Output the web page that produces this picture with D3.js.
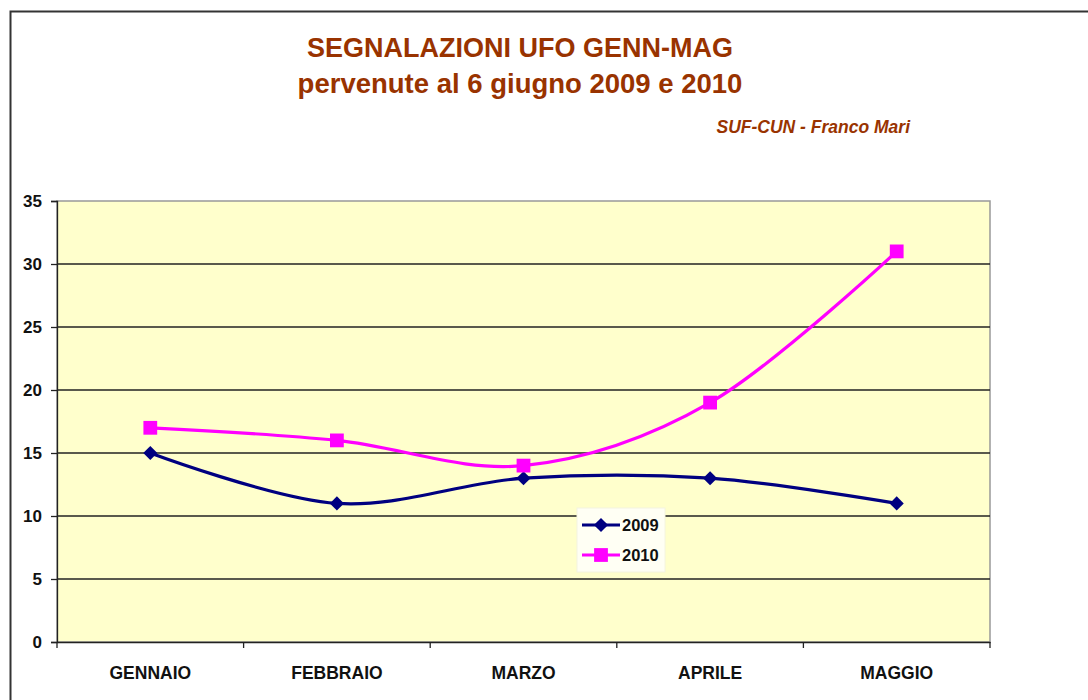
<!DOCTYPE html>
<html>
<head>
<meta charset="utf-8">
<script src="https://cdn.jsdelivr.net/npm/d3@7"></script>
<style>
  body { margin: 0; background: #fff; }
  text { font-family: "Liberation Sans", Arial, sans-serif; }
</style>
</head>
<body>
<div id="chart"></div>
<script>
// dati
let months = ["GENNAIO", "FEBBRAIO", "MARZO", "APRILE", "MAGGIO"];
let values2009 = [15, 11, 13, 13, 11];
let values2010 = [17, 16, 14, 19, 31];
let yTicks = [0, 5, 10, 15, 20, 25, 30, 35];

let svg = d3.select("div#chart").append("svg")
    .attr("width", 1088)
    .attr("height", 700);

let plot = {left: 57, right: 990, top: 201, bottom: 642};

// cornice esterna
svg.append("path")
    .attr("d", "M10.5,700 L10.5,11.5 L1088,11.5")
    .attr("fill", "none")
    .attr("stroke", "#333")
    .attr("stroke-width", 2);

let x = d3.scaleBand()
    .domain(months)
    .range([plot.left, plot.right]);
let y = d3.scaleLinear()
    .domain([0, 35])
    .range([plot.bottom, plot.top]);

// sfondo area del grafico
svg.append("rect")
    .attr("x", plot.left)
    .attr("y", plot.top)
    .attr("width", plot.right - plot.left)
    .attr("height", plot.bottom - plot.top)
    .attr("fill", "#ffffcc")
    .attr("stroke", "#999")
    .attr("stroke-width", 1.5);

// griglia
svg.selectAll("line.grid")
    .data(yTicks.filter(d => d > 0 && d < 35))
    .enter().append("line")
    .attr("class", "grid")
    .attr("x1", plot.left)
    .attr("x2", plot.right)
    .attr("y1", d => y(d))
    .attr("y2", d => y(d))
    .attr("stroke", "#222")
    .attr("stroke-width", 1.3);

// asse y
let yAxis = svg.append("g")
    .attr("transform", "translate(" + plot.left + ",0)")
    .call(d3.axisLeft(y).tickValues(yTicks).tickSize(6).tickPadding(9));
yAxis.select(".domain").attr("stroke", "#222").attr("stroke-width", 1.3);
yAxis.selectAll(".tick line").attr("stroke", "#222").attr("stroke-width", 1.3);
yAxis.selectAll("text")
    .attr("font-size", 17)
    .attr("font-weight", "bold")
    .attr("fill", "#111")
    .attr("font-family", "Liberation Sans, Arial, sans-serif");

// asse x
let xAxis = svg.append("g")
    .attr("transform", "translate(0," + plot.bottom + ")")
    .call(d3.axisBottom(x).tickSize(0).tickPadding(25));
xAxis.select(".domain").attr("stroke", "#222").attr("stroke-width", 1.5);
xAxis.selectAll("text")
    .attr("font-size", 17.5)
    .attr("font-weight", "bold")
    .attr("fill", "#111")
    .attr("font-family", "Liberation Sans, Arial, sans-serif");
// tacche tra le categorie
let bounds = months.map(m => x(m)).concat([plot.right]);
svg.selectAll("line.xtick")
    .data(bounds)
    .enter().append("line")
    .attr("class", "xtick")
    .attr("x1", d => d)
    .attr("x2", d => d)
    .attr("y1", plot.bottom)
    .attr("y2", plot.bottom + 6)
    .attr("stroke", "#222")
    .attr("stroke-width", 1.3);

let cx = m => x(m) + x.bandwidth() / 2;
let line = d3.line()
    .x((d, i) => cx(months[i]))
    .y(d => y(d))
    .curve(d3.curveCatmullRom.alpha(0));

// il rombo e' un quadrato ruotato di 45 gradi
let series = [
    {name: "2009", values: values2009, color: "#000080", shape: d3.symbolSquare, size: 100, rot: 45},
    {name: "2010", values: values2010, color: "#ff00ff", shape: d3.symbolSquare, size: 190, rot: 0}
];

series.forEach(s => {
    svg.append("path")
        .attr("d", line(s.values))
        .attr("fill", "none")
        .attr("stroke", s.color)
        .attr("stroke-width", 3.2);
    svg.selectAll(null)
        .data(s.values)
        .enter().append("path")
        .attr("d", d3.symbol().type(s.shape).size(s.size))
        .attr("transform", (d, i) => "translate(" + cx(months[i]) + "," + y(d) + ") rotate(" + s.rot + ")")
        .attr("fill", s.color);
});

// legenda
let legend = svg.append("g").attr("transform", "translate(577,508)");
legend.append("rect")
    .attr("width", 88)
    .attr("height", 64)
    .attr("fill", "#fffff4")
    .attr("stroke", "#f4f4e0");
series.forEach((s, i) => {
    let row = legend.append("g").attr("transform", "translate(0," + (17 + i * 30) + ")");
    row.append("line")
        .attr("x1", 5).attr("x2", 43)
        .attr("stroke", s.color)
        .attr("stroke-width", 3.2);
    row.append("path")
        .attr("d", d3.symbol().type(s.shape).size(s.size))
        .attr("transform", "translate(24,0) rotate(" + s.rot + ")")
        .attr("fill", s.color);
    row.append("text")
        .attr("x", 45)
        .attr("y", 6)
        .attr("font-size", 16.5)
        .attr("font-weight", "bold")
        .attr("fill", "#111")
        .text(s.name);
});

// titoli
svg.append("text")
    .attr("x", 520).attr("y", 57)
    .attr("text-anchor", "middle")
    .attr("font-size", 27)
    .attr("font-weight", "bold")
    .attr("fill", "#993300")
    .text("SEGNALAZIONI UFO GENN-MAG");
svg.append("text")
    .attr("x", 520).attr("y", 93)
    .attr("text-anchor", "middle")
    .attr("font-size", 27.5)
    .attr("font-weight", "bold")
    .attr("fill", "#993300")
    .text("pervenute al 6 giugno 2009 e 2010");
svg.append("text")
    .attr("x", 910).attr("y", 133)
    .attr("text-anchor", "end")
    .attr("font-size", 17.5)
    .attr("font-weight", "bold")
    .attr("font-style", "italic")
    .attr("fill", "#993300")
    .text("SUF-CUN - Franco Mari");
</script>
</body>
</html>
